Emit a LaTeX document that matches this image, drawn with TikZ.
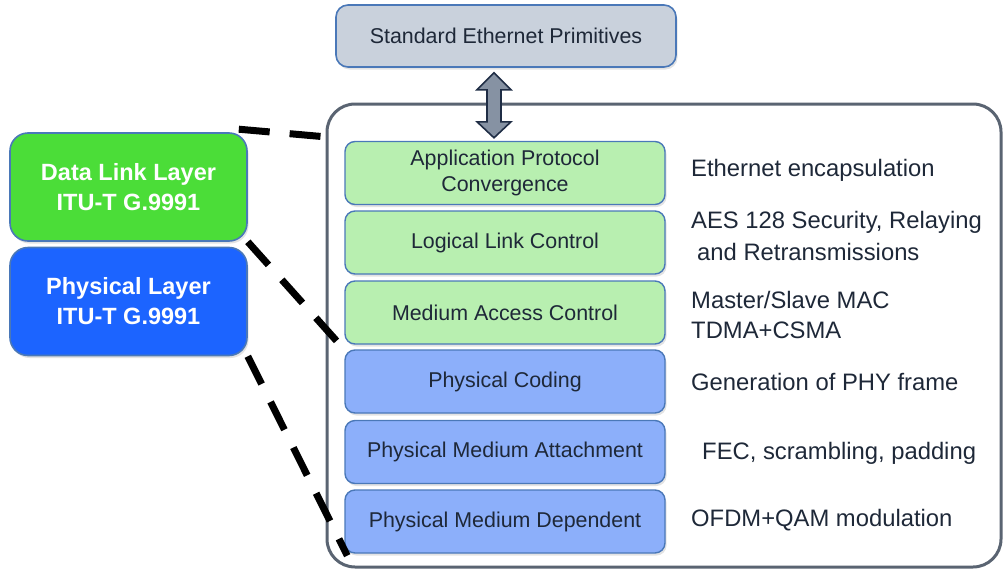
\documentclass[tikz,border=0pt]{standalone}
\usepackage{fontspec}
\setmainfont{Liberation Sans}
\usetikzlibrary{calc,shadows}
\definecolor{sepfill}{HTML}{C9D1DC}
\definecolor{boxborder}{HTML}{4A78B8}
\definecolor{lgreen}{HTML}{B8EFB0}
\definecolor{lblue}{HTML}{8CAFFA}
\definecolor{dgreen}{HTML}{4BDD38}
\definecolor{dblue}{HTML}{1C64FF}
\definecolor{txt}{HTML}{1E2838}
\definecolor{framec}{HTML}{5A6472}
\definecolor{arrfill}{HTML}{8692A3}
\definecolor{arrline}{HTML}{1F2D45}
\tikzset{
  layerbox/.style={draw=boxborder, line width=1.4pt, rounded corners=10pt, minimum width=320pt, minimum height=63pt, inner sep=0pt, align=center, text=txt, font=\fontsize{21.4}{26}\selectfont, drop shadow={shadow xshift=1.5pt, shadow yshift=-2.5pt, fill=black!22}},
  greenbox/.style={layerbox, fill=lgreen},
  bluebox/.style={layerbox, fill=lblue},
  bigbox/.style={draw=boxborder, line width=1.6pt, rounded corners=18pt, minimum width=237pt, minimum height=108pt, inner sep=0pt, align=center, text=white, font=\bfseries\fontsize{23.5}{30}\selectfont, drop shadow={shadow xshift=1.5pt, shadow yshift=-2.5pt, fill=black!22}},
  frame/.style={draw=framec, line width=3pt, rounded corners=28pt, minimum width=674pt, minimum height=463pt, inner sep=0pt},
  desc/.style={anchor=base west, text=txt, inner sep=0pt, font=\fontsize{23.8}{30}\selectfont},
  zoomline/.style={black, line width=7pt, dash pattern=on 31pt off 20pt},
  arrowsty/.style={draw=arrline, fill=arrfill, line width=1.6pt, line join=miter}
}
\begin{document}
\begin{tikzpicture}[x=1pt,y=1pt]
\useasboundingbox (0,0) rectangle (1003,-570);
% outer frame
\node[frame] (big) at (664,-335.5) {};
% top box
\node[draw=boxborder, fill=sepfill, line width=1.6pt, rounded corners=12pt, minimum width=340pt, minimum height=62pt, inner sep=0pt, text=txt, font=\fontsize{21.4}{26}\selectfont, drop shadow={shadow xshift=1.5pt, shadow yshift=-2.5pt, fill=black!22}] (sep) at (506,-36) {Standard Ethernet Primitives};
% layer boxes
\node[greenbox] (apc) at (505,-173) {Application Protocol\\Convergence};
\node[greenbox] (llc) at (505,-242.5) {Logical Link Control};
\node[greenbox] (mac) at (505,-312.5) {Medium Access Control};
\node[bluebox] (pc) at (505,-381.5) {Physical Coding};
\node[bluebox] (pma) at (505,-452) {Physical Medium Attachment};
\node[bluebox] (pmd) at (505,-521.5) {Physical Medium Dependent};
% left boxes
\node[bigbox, fill=dgreen] (dl) at (128.5,-187) {Data Link Layer\\ITU-T G.9991};
\node[bigbox, fill=dblue] (phy) at (128.5,-301.5) {Physical Layer\\ITU-T G.9991};
% double arrow
\coordinate (at) at ($(sep.south)+(-12,-5)$);
\coordinate (ab) at ($(apc.north)+(-11,3)$);
\draw[arrowsty] (at) -- ($(at)+(17,-17)$) -- ($(at)+(7,-17)$) -- ($(ab)+(7,16)$) -- ($(ab)+(17,16)$) -- (ab) -- ($(ab)+(-17,16)$) -- ($(ab)+(-7,16)$) -- ($(at)+(-7,-17)$) -- ($(at)+(-17,-17)$) -- cycle;
% descriptions
\node[desc] (d1) at (691,-176) {Ethernet encapsulation};
\node[desc] (d2) at (691,-228) {AES 128 Security, Relaying};
\node[desc] (d3) at (697,-260) {and Retransmissions};
\node[desc] (d4) at (691,-308) {Master/Slave MAC};
\node[desc] (d5) at (691,-338) {TDMA+CSMA};
\node[desc] (d6) at (691,-390) {Generation of PHY frame};
\node[desc] (d7) at (702,-459) {FEC, scrambling, padding};
\node[desc] (d8) at (691,-526) {OFDM+QAM modulation};
% zoom lines
\draw[zoomline] ($(dl.north east)+(-9,3)$) -- ($(big.north west)+(-4,-34)$);
\draw[zoomline] (dl.south east) -- ($(pc.north west)+(-2,2)$);
\draw[zoomline] (phy.south east) -- ($(pmd.south west)+(3,-2)$);
\end{tikzpicture}
\end{document}
